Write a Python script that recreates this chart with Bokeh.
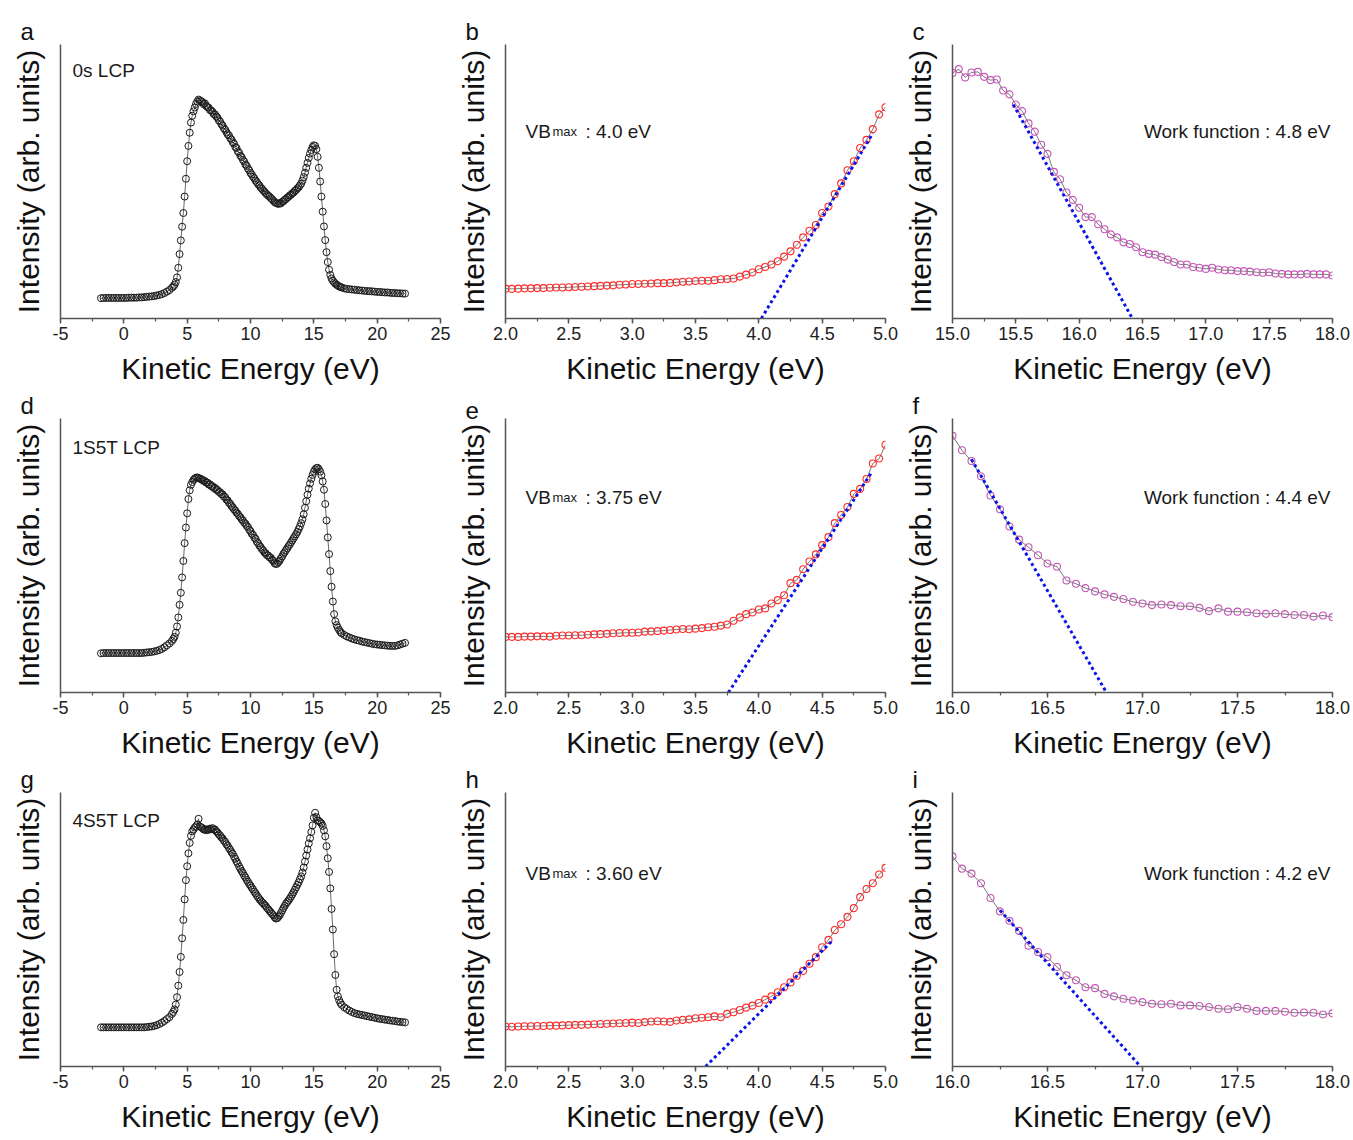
from bokeh.plotting import figure
from bokeh.layouts import column, row
from bokeh.models import Range1d, SingleIntervalTicker, FixedTicker, NumeralTickFormatter, Label
from bokeh.embed import file_html
from bokeh.resources import INLINE

FONT = "Liberation Sans"

# ---------------- data (intensity in arbitrary units, 0-100 of the axis) -------------
ke_survey = [-1.8, -1.6, -1.4, -1.2, -1.0, -0.8, -0.6, -0.4, -0.2, 0.0, 0.2, 0.4, 0.6, 0.8, 1.0,
             1.2, 1.4, 1.6, 1.8, 2.0, 2.2, 2.4, 2.6, 2.8, 3.0, 3.2, 3.4, 3.6, 3.8,
             3.9, 4.0, 4.1, 4.2, 4.3, 4.4, 4.5, 4.6, 4.7, 4.8, 4.9, 5.0, 5.1, 5.2, 5.3, 5.4,
             5.5, 5.6, 5.7, 5.8, 5.9, 6.0,
             6.1, 6.2, 6.3, 6.4, 6.5, 6.6, 6.7, 6.8, 6.9, 7.0,
             7.1, 7.2, 7.3, 7.4, 7.5, 7.6, 7.7, 7.8, 7.9, 8.0,
             8.1, 8.2, 8.3, 8.4, 8.5, 8.6, 8.7, 8.8, 8.9, 9.0,
             9.1, 9.2, 9.3, 9.4, 9.5, 9.6, 9.7, 9.8, 9.9, 10.0,
             10.1, 10.2, 10.3, 10.4, 10.5, 10.6, 10.7, 10.8, 10.9, 11.0,
             11.1, 11.2, 11.3, 11.4, 11.5, 11.6, 11.7, 11.8, 11.9, 12.0,
             12.1, 12.2, 12.3, 12.4, 12.5, 12.6, 12.7, 12.8, 12.9, 13.0,
             13.1, 13.2, 13.3, 13.4, 13.5, 13.6, 13.7, 13.8, 13.9, 14.0,
             14.1, 14.2, 14.3, 14.4, 14.5, 14.6, 14.7, 14.8, 14.9, 15.0, 15.1, 15.2, 15.3,
             15.4, 15.5, 15.6, 15.7, 15.8, 15.9, 16.0, 16.1, 16.2, 16.3, 16.4, 16.5, 16.6,
             16.7, 16.8, 16.9, 17.0, 17.1, 17.2,
             17.4, 17.6, 17.8, 18.0, 18.2, 18.4, 18.6, 18.8, 19.0, 19.2, 19.4, 19.6, 19.8,
             20.0, 20.2, 20.4, 20.6, 20.8, 21.0, 21.2, 21.4, 21.6, 21.8, 22.0, 22.2]

survey_0s = [7.4, 7.5, 7.5, 7.5, 7.5, 7.5, 7.5, 7.5, 7.5, 7.5, 7.5, 7.6, 7.6, 7.6, 7.6,
             7.7, 7.7, 7.8, 7.9, 8.0, 8.1, 8.2, 8.4, 8.6, 8.9, 9.3, 9.8, 10.4, 11.2,
             11.7, 12.3, 13.3, 15.0, 18.5, 23.5, 28.5, 33.5, 38.5, 44.5, 51.0, 57.4, 63.0,
             67.8, 71.5, 74.0, 75.6, 77.0, 78.3, 79.2, 79.9, 79.6,
             79.3, 79.0, 78.2, 78.5, 77.6, 77.2, 76.9, 76.1, 75.9, 75.4,
             74.6, 74.5, 73.7, 73.3, 72.3, 71.9, 70.9, 70.4, 69.4, 68.9,
             68.0, 67.2, 66.8, 65.8, 65.3, 64.3, 63.8, 62.6, 62.2, 61.0,
             60.5, 59.4, 58.9, 57.9, 57.3, 56.2, 55.7, 54.7, 54.1, 53.1,
             52.6, 51.7, 51.2, 50.3, 49.8, 49.0, 48.6, 47.8, 47.4, 46.7,
             46.3, 45.7, 45.3, 44.8, 44.5, 43.9, 43.6, 43.0, 42.5, 42.2,
             42.0, 41.8, 42.1, 42.0, 42.6, 42.8, 43.3, 43.6, 44.1, 44.4,
             44.9, 45.2, 45.7, 46.0, 46.6, 46.9, 47.5, 47.9, 48.6, 49.2,
             50.3, 51.6, 53.2, 55.0, 56.8, 58.6, 60.2, 61.5, 62.6, 63.2,
             63.0, 61.8, 59.0, 55.0, 50.0, 44.5, 39.0, 33.6, 28.6, 24.2,
             20.6, 17.8, 15.9, 14.6, 13.8, 13.2, 12.7, 12.3, 12.0, 11.7, 11.5, 11.3,
             11.0, 10.8, 10.7, 10.6, 10.5, 10.4, 10.3, 10.2, 10.1, 10.0,
             10.0, 9.9, 9.8, 9.7, 9.7, 9.6, 9.5, 9.5, 9.4, 9.3, 9.3, 9.2, 9.2, 9.1, 9.1]

survey_1s5t = [14.3, 14.4, 14.4, 14.4, 14.4, 14.4, 14.4, 14.4, 14.4, 14.4, 14.4, 14.4, 14.4,
               14.4, 14.4, 14.4, 14.4, 14.5, 14.6, 14.7, 14.8, 15.0, 15.2, 15.5, 15.9, 16.5,
               17.2, 17.9, 18.8,
               19.5, 20.3, 21.8, 24.1, 27.4, 32.0, 36.4, 42.0, 48.0, 54.5, 60.2, 65.4, 70.6,
               73.8, 75.8, 76.8, 77.6, 78.1, 78.4, 78.5, 78.3, 78.0,
               77.9, 77.6, 77.2, 77.2, 76.6, 76.6, 75.9, 76.0, 75.3, 75.3,
               74.6, 74.7, 74.0, 73.9, 73.2, 73.1, 72.4, 72.3, 71.5, 71.3,
               70.4, 70.1, 69.2, 68.9, 68.0, 67.6, 66.8, 66.4, 65.6, 65.2,
               64.4, 64.0, 63.2, 62.8, 62.0, 61.6, 60.8, 60.4, 59.4, 58.9,
               57.9, 57.5, 56.5, 56.1, 55.0, 54.5, 53.6, 53.1, 52.3, 51.9,
               51.1, 50.8, 50.1, 50.0, 49.3, 49.2, 48.4, 48.1, 47.2, 46.9,
               47.0, 47.6, 48.1, 49.0, 49.7, 50.6, 51.2, 52.0, 52.6, 53.4,
               54.0, 54.8, 55.5, 56.3, 57.0, 57.8, 58.6, 59.6, 60.6, 61.8,
               63.2, 65.0, 67.4, 69.8, 72.2, 74.4, 76.3, 78.0, 79.4, 80.6,
               81.4, 81.9, 82.0, 81.5, 80.6, 79.3, 77.0, 74.0, 68.8, 62.8,
               56.6, 50.5, 44.3, 38.6, 33.2, 28.6, 26.0, 24.6, 23.6, 22.8, 22.1, 21.6,
               21.0, 20.5, 20.1, 19.7, 19.4, 19.1, 18.9, 18.6, 18.4, 18.2,
               18.0, 17.8, 17.6, 17.5, 17.4, 17.3, 17.2, 17.1, 17.0, 17.0,
               17.0, 17.2, 17.5, 17.8, 18.1]

survey_4s5t = [14.3, 14.3, 14.3, 14.3, 14.3, 14.3, 14.3, 14.3, 14.3, 14.3, 14.3, 14.3, 14.3,
               14.3, 14.3, 14.3, 14.3, 14.3, 14.4, 14.5, 14.6, 14.8, 15.1, 15.5, 16.0, 16.6,
               17.3, 18.0, 19.2,
               19.9, 20.8, 22.6, 25.3, 29.5, 34.5, 40.0, 46.8, 53.5, 61.0, 68.0, 73.1, 77.8,
               81.6, 84.2, 85.8, 86.5, 87.2, 87.6, 88.3, 90.4, 87.6,
               87.3, 87.0, 86.5, 86.6, 86.2, 86.5, 86.4, 86.8, 86.6, 87.0,
               86.5, 86.5, 85.8, 85.4, 84.7, 84.3, 83.6, 83.2, 82.4, 82.0,
               81.1, 80.6, 79.7, 79.1, 78.2, 77.6, 76.6, 75.8, 74.8, 74.0,
               73.0, 72.2, 71.3, 70.6, 69.7, 69.0, 68.1, 67.4, 66.6, 66.0,
               65.2, 64.6, 63.8, 63.2, 62.4, 61.8, 61.1, 60.6, 60.0, 59.6,
               59.0, 58.6, 57.9, 57.4, 56.8, 56.3, 55.7, 55.2, 54.5, 54.0,
               54.1, 54.6, 55.2, 56.0, 56.9, 57.8, 58.6, 59.4, 60.0, 60.6,
               61.3, 62.0, 62.8, 63.6, 64.5, 65.4, 66.3, 67.2, 68.3, 69.4,
               70.8, 72.6, 74.8, 77.0, 79.2, 81.4, 83.3, 85.6, 88.0, 90.8,
               92.6, 91.0, 89.8, 89.6, 89.2, 88.7, 87.8, 86.2, 84.0, 80.4,
               76.0, 71.0, 65.0, 57.5, 50.0, 41.0, 33.4, 28.0, 25.6, 24.2, 23.2, 22.5,
               21.6, 21.0, 20.4, 19.9, 19.5, 19.2, 19.0, 18.8, 18.6, 18.4,
               18.2, 18.0, 17.8, 17.6, 17.4, 17.3, 17.1, 17.0, 16.8, 16.7,
               16.6, 16.4, 16.3, 16.2, 16.1]

ke_vb = [2.00, 2.05, 2.10, 2.15, 2.20, 2.25, 2.30, 2.35, 2.40, 2.45,
         2.50, 2.55, 2.60, 2.65, 2.70, 2.75, 2.80, 2.85, 2.90, 2.95,
         3.00, 3.05, 3.10, 3.15, 3.20, 3.25, 3.30, 3.35, 3.40, 3.45,
         3.50, 3.55, 3.60, 3.65, 3.70, 3.75, 3.80, 3.85, 3.90, 3.95,
         4.00, 4.05, 4.10, 4.15, 4.20, 4.25, 4.30, 4.35, 4.40, 4.45,
         4.50, 4.55, 4.60, 4.65, 4.70, 4.75, 4.80, 4.85, 4.90, 4.95, 5.00]

vb_0s = [10.9, 10.8, 10.9, 11.0, 11.0, 11.1, 11.1, 11.2, 11.3, 11.3,
         11.4, 11.5, 11.6, 11.7, 11.8, 11.9, 12.0, 12.1, 12.3, 12.4,
         12.6, 12.6, 12.7, 12.8, 12.9, 12.9, 13.0, 13.2, 13.4, 13.5,
         13.7, 13.8, 13.8, 14.0, 14.3, 14.4, 14.6, 15.3, 16.0, 16.8,
         18.0, 18.8, 19.7, 20.9, 22.6, 24.5, 26.9, 29.6, 32.0, 34.1,
         38.5, 40.9, 45.4, 49.3, 54.1, 57.4, 62.2, 65.2, 69.1, 74.5, 77.1]

vb_1s5t = [20.3, 20.3, 20.3, 20.4, 20.4, 20.5, 20.5, 20.4, 20.7, 20.8,
           20.8, 20.9, 20.9, 21.1, 21.2, 21.3, 21.4, 21.6, 21.7, 21.8,
           21.8, 21.9, 22.2, 22.3, 22.4, 22.6, 22.8, 23.0, 23.2, 23.1,
           23.3, 23.5, 23.8, 24.0, 24.4, 24.8, 26.2, 27.4, 28.6, 29.2,
           30.3, 30.7, 32.5, 33.7, 35.5, 39.9, 41.1, 45.0, 47.8, 50.4,
           53.8, 56.7, 61.8, 64.8, 67.7, 72.5, 74.3, 77.9, 83.6, 85.4, 90.4]

vb_4s5t = [14.6, 14.5, 14.6, 14.7, 14.7, 14.8, 14.8, 14.9, 14.9, 15.0,
           15.1, 15.2, 15.2, 15.3, 15.4, 15.5, 15.6, 15.7, 15.8, 15.9,
           16.0, 15.9, 16.2, 16.4, 16.5, 16.4, 16.3, 16.8, 17.0, 17.2,
           17.6, 17.8, 18.0, 18.3, 18.0, 19.2, 19.8, 20.6, 21.5, 22.2,
           23.2, 24.4, 25.6, 27.1, 28.9, 30.7, 33.1, 34.9, 37.5, 39.9,
           43.5, 46.2, 49.8, 51.9, 54.6, 57.8, 61.8, 64.8, 66.9, 70.1, 72.5]

ke_wf_0s = [15.00, 15.05, 15.10, 15.15, 15.20, 15.25, 15.30, 15.35, 15.40, 15.45,
            15.50, 15.55, 15.60, 15.65, 15.70, 15.75, 15.80, 15.85, 15.90, 15.95,
            16.00, 16.05, 16.10, 16.15, 16.20, 16.25, 16.30, 16.35, 16.40, 16.45,
            16.50, 16.55, 16.60, 16.65, 16.70, 16.75, 16.80, 16.85, 16.90, 16.95,
            17.00, 17.05, 17.10, 17.15, 17.20, 17.25, 17.30, 17.35, 17.40, 17.45,
            17.50, 17.55, 17.60, 17.65, 17.70, 17.75, 17.80, 17.85, 17.90, 17.95, 18.00]

wf_0s = [89.6, 91.0, 88.0, 89.8, 90.0, 88.2, 87.0, 87.2, 83.2, 81.8,
         78.1, 75.7, 71.2, 68.2, 63.4, 60.1, 53.5, 50.8, 46.0, 43.3,
         40.4, 37.0, 37.0, 34.4, 32.6, 30.7, 29.6, 27.8, 27.2, 26.0,
         24.2, 23.6, 23.3, 22.4, 21.5, 20.6, 19.7, 19.7, 18.8, 18.5,
         18.1, 18.5, 17.9, 17.6, 17.6, 17.3, 17.3, 17.1, 16.9, 16.7,
         16.9, 16.4, 16.3, 16.1, 16.1, 16.1, 16.3, 16.1, 16.1, 16.1, 15.7]

ke_wf = [16.00, 16.05, 16.10, 16.15, 16.20, 16.25, 16.30, 16.35, 16.40, 16.45,
         16.50, 16.55, 16.60, 16.65, 16.70, 16.75, 16.80, 16.85, 16.90, 16.95,
         17.00, 17.05, 17.10, 17.15, 17.20, 17.25, 17.30, 17.35, 17.40, 17.45,
         17.50, 17.55, 17.60, 17.65, 17.70, 17.75, 17.80, 17.85, 17.90, 17.95, 18.00]

wf_1s5t = [93.7, 88.4, 84.5, 78.9, 71.9, 66.9, 60.6, 55.8, 53.0, 50.1,
           47.1, 45.9, 40.9, 39.7, 38.1, 36.9, 35.8, 34.9, 34.1, 33.1,
           32.5, 31.9, 32.1, 31.9, 31.5, 31.5, 30.9, 29.7, 30.7, 29.5,
           29.5, 29.3, 28.9, 28.7, 28.9, 28.6, 28.3, 28.3, 27.7, 28.1, 27.5]

wf_4s5t = [76.7, 72.2, 70.4, 66.9, 61.5, 56.6, 53.2, 49.5, 44.1, 41.8,
           39.9, 36.3, 33.3, 31.5, 28.9, 28.6, 26.5, 25.6, 24.7, 24.1,
           23.5, 22.9, 22.7, 22.9, 22.3, 22.3, 22.1, 21.7, 21.1, 20.9,
           21.7, 21.1, 20.3, 20.3, 20.3, 20.0, 19.6, 19.7, 19.6, 19.0, 19.4]

# linear extrapolation lines (end points)
fit_vb_0s_x, fit_vb_0s_y = [4.02, 4.90], [0.0, 67.6]
fit_vb_1s5t_x, fit_vb_1s5t_y = [3.76, 4.89], [0.0, 80.3]
fit_vb_4s5t_x, fit_vb_4s5t_y = [3.58, 4.58], [0.0, 45.9]
fit_wf_0s_x, fit_wf_0s_y = [15.48, 16.42], [78.1, 0.0]
fit_wf_1s5t_x, fit_wf_1s5t_y = [16.10, 16.81], [85.1, 0.0]
fit_wf_4s5t_x, fit_wf_4s5t_y = [16.25, 16.99], [57.0, 0.0]

samples = ["0s LCP", "1S5T LCP", "4S5T LCP"]
vb_values = ["4.0 eV", "3.75 eV", "3.60 eV"]
wf_values = ["4.8 eV", "4.4 eV", "4.2 eV"]
letters = ["a", "b", "c", "d", "e", "f", "g", "h", "i"]

# ---------------- styling ----------------
FW, FH = 380, 274
AX = "#555555"
RED = "#FF2A2A"
PURPLE = "#C456B6"
BLUE = "#0A14E6"


def base_fig(xlim, interval, fmt, top, left, right, letter):
    p = figure(frame_width=FW, frame_height=FH, x_range=Range1d(*xlim), y_range=Range1d(0, 100),
               output_backend="svg", toolbar_location=None,
               min_border_left=left, min_border_right=right, min_border_top=top,
               min_border_bottom=71)
    p.outline_line_color = None
    p.xgrid.visible = False
    p.ygrid.visible = False
    p.title.text = letter
    p.title.text_font = FONT
    p.title.text_font_size = "24px"
    p.title.text_font_style = "normal"
    p.title.text_color = "#111111"
    p.title.align = "left"
    p.title.offset = -40
    p.title.standoff = 0
    xa = p.xaxis[0]
    xa.ticker = SingleIntervalTicker(interval=interval, num_minor_ticks=2)
    xa.formatter = NumeralTickFormatter(format=fmt)
    xa.axis_label = "Kinetic Energy (eV)"
    xa.axis_label_text_font = FONT
    xa.axis_label_text_font_size = "30px"
    xa.axis_label_text_font_style = "normal"
    xa.axis_label_text_color = "#111111"
    xa.axis_label_standoff = 9
    xa.major_label_text_font = FONT
    xa.major_label_text_font_size = "18px"
    xa.major_label_text_color = "#222222"
    xa.major_label_standoff = 3
    xa.axis_line_color = AX
    xa.axis_line_width = 1.5
    xa.major_tick_line_color = AX
    xa.major_tick_line_width = 1.5
    xa.minor_tick_line_color = AX
    xa.minor_tick_line_width = 1.2
    xa.major_tick_in = 0
    xa.major_tick_out = 5
    xa.minor_tick_in = 0
    xa.minor_tick_out = 3
    ya = p.yaxis[0]
    ya.ticker = FixedTicker(ticks=[])
    ya.axis_label = "Intensity (arb. units)"
    ya.axis_label_text_font = FONT
    ya.axis_label_text_font_size = "30px"
    ya.axis_label_text_font_style = "normal"
    ya.axis_label_text_color = "#111111"
    ya.axis_label_standoff = 16
    ya.major_tick_in = 0
    ya.major_tick_out = 0
    ya.minor_tick_in = 0
    ya.minor_tick_out = 0
    ya.major_label_standoff = 0
    ya.axis_line_color = AX
    ya.axis_line_width = 1.5
    return p


def add_text(p, text, x, y, size="19px", align="left"):
    p.add_layout(Label(x=x, y=y, x_units="screen", y_units="screen", text=text,
                       text_font=FONT, text_font_size=size, text_color="#1a1a1a",
                       text_align=align, text_baseline="alphabetic"))


survey = [survey_0s, survey_1s5t, survey_4s5t]
vb = [vb_0s, vb_1s5t, vb_4s5t]
wf_x = [ke_wf_0s, ke_wf, ke_wf]
wf = [wf_0s, wf_1s5t, wf_4s5t]
wf_lim = [(15.0, 18.0), (16.0, 18.0), (16.0, 18.0)]
fit_vb = [(fit_vb_0s_x, fit_vb_0s_y), (fit_vb_1s5t_x, fit_vb_1s5t_y), (fit_vb_4s5t_x, fit_vb_4s5t_y)]
fit_wf = [(fit_wf_0s_x, fit_wf_0s_y), (fit_wf_1s5t_x, fit_wf_1s5t_y), (fit_wf_4s5t_x, fit_wf_4s5t_y)]
sample_off = [26, 29, 28]
note_off = [87, 79, 81]

rows = []
for r in range(3):
    top = 44 if r == 0 else 29
    # survey spectrum
    p1 = base_fig((-5, 25), 5, "0", top, 60, 13, letters[r * 3])
    p1.line(ke_survey, survey[r], line_color="#444444", line_width=0.8)
    p1.scatter(ke_survey, survey[r], marker="circle", size=7, fill_color=None,
               line_color="#1a1a1a", line_width=1)
    add_text(p1, samples[r], 12, FH - sample_off[r])
    # valence band
    p2 = base_fig((2.0, 5.0), 0.5, "0.0", top, 52, 15, letters[r * 3 + 1])
    p2.line(ke_vb, vb[r], line_color="#555555", line_width=0.8)
    p2.scatter(ke_vb, vb[r], marker="circle", size=7, fill_color=None,
               line_color=RED, line_width=1.1)
    p2.line(fit_vb[r][0], fit_vb[r][1], line_color=BLUE, line_width=3, line_dash="3 3")
    add_text(p2, "VB", 20, FH - note_off[r])
    add_text(p2, "max", 47, FH - note_off[r], size="13px")
    add_text(p2, ": " + vb_values[r], 80, FH - note_off[r])
    # work function / cut-off
    p3 = base_fig(wf_lim[r], 0.5, "0.0", top, 52, 18, letters[r * 3 + 2])
    p3.line(wf_x[r], wf[r], line_color="#555555", line_width=0.8)
    p3.scatter(wf_x[r], wf[r], marker="circle", size=7, fill_color=None,
               line_color=PURPLE, line_width=1.1)
    p3.line(fit_wf[r][0], fit_wf[r][1], line_color=BLUE, line_width=3, line_dash="3 3")
    add_text(p3, "Work function : " + wf_values[r], 378, FH - note_off[r], align="right")
    rows.append(row(p1, p2, p3))

layout = column(*rows)
open("out.html", "w").write(file_html(layout, INLINE))
